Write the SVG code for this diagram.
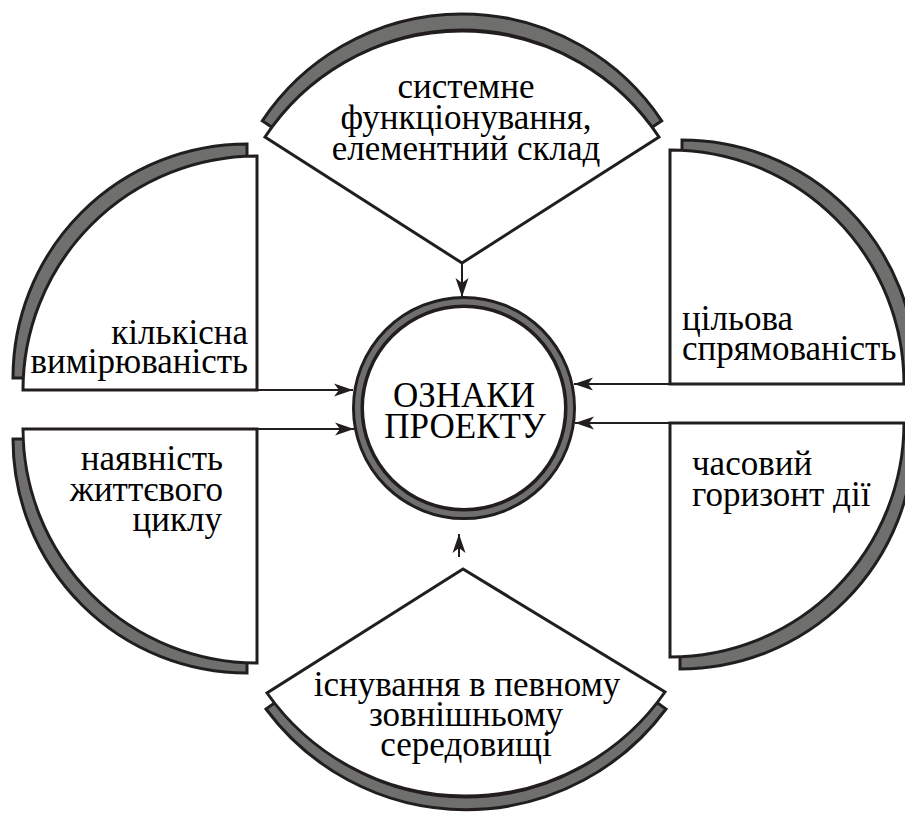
<svg xmlns="http://www.w3.org/2000/svg" width="905" height="814" viewBox="0 0 905 814">
<style>
.band{fill:#6f6f6d;stroke:#221e1f;stroke-width:3}
.sec{fill:#ffffff;stroke:#221e1f;stroke-width:3}
.con{stroke:#221e1f;stroke-width:2;fill:none}
</style>
<defs>
<marker id="ah" markerUnits="userSpaceOnUse" markerWidth="24" markerHeight="16" viewBox="-20 -8 22 16" refX="0" refY="0" orient="auto">
<path d="M0,0 L-19,-6.5 L-14,0 L-19,6.5 Z" fill="#221e1f"/>
</marker>
</defs>
<rect width="905" height="814" fill="#ffffff"/>

<g id="node-top">
<path class="band" d="M 262.3 120.8 A 240 240 0 0 1 661.7 120.8 L 648.4 129.7 A 224 224 0 0 0 275.6 129.7 Z"/>
<path class="sec" d="M 265 137 A 236 236 0 0 1 659 137 L 462 263 Z"/>
</g>
<g id="node-left-top">
<path class="band" d="M 13 378 A 234 234 0 0 1 247 144 L 247 162 A 216 216 0 0 0 31 378 Z"/>
<path class="sec" d="M 257 156 L 257 390 L 23 390 A 234 234 0 0 1 257 156 Z"/>
</g>
<g id="node-right-top">
<path class="band" d="M 682 140 A 234 234 0 0 1 916 374 L 898 374 A 216 216 0 0 0 682 158 Z"/>
<path class="sec" d="M 670 150 L 670 384 L 904 384 A 234 234 0 0 0 670 150 Z"/>
</g>
<g id="node-left-bottom">
<path class="band" d="M 13 439 A 234 234 0 0 0 247 673 L 247 655 A 216 216 0 0 1 31 439 Z"/>
<path class="sec" d="M 257 429 L 23 429 A 234 234 0 0 0 257 663 Z"/>
</g>
<g id="node-right-bottom">
<path class="band" d="M 680 669 A 234 234 0 0 0 914 435 L 896 435 A 216 216 0 0 1 680 651 Z"/>
<path class="sec" d="M 670 423 L 670 657 A 234 234 0 0 0 904 423 Z"/>
</g>
<g id="node-bottom">
<path class="band" d="M 266 709 A 249 249 0 0 0 666 709 L 655.6 701.6 A 236 236 0 0 1 276.4 701.6 Z"/>
<path class="sec" d="M 463 569 L 267 693 A 243 243 0 0 0 665 692 Z"/>
</g>

<g id="connectors">
<line class="con" x1="462" y1="263" x2="462" y2="297" marker-end="url(#ah)"/>
<line class="con" x1="257" y1="390" x2="353" y2="390" marker-end="url(#ah)"/>
<line class="con" x1="257" y1="429" x2="354" y2="429" marker-end="url(#ah)"/>
<line class="con" x1="670" y1="384" x2="574" y2="384" marker-end="url(#ah)"/>
<line class="con" x1="670" y1="423" x2="575" y2="423" marker-end="url(#ah)"/>
<line class="con" x1="459" y1="557" x2="459" y2="534" marker-end="url(#ah)"/>
</g>

<g id="node-center">
<circle cx="464" cy="408" r="106" fill="#ffffff" stroke="#221e1f" stroke-width="12"/>
<circle cx="464" cy="408" r="106.3" fill="none" stroke="#6f6f6d" stroke-width="5.5"/>
</g>

<g id="labels">
<text x="466" y="98" text-anchor="middle" font-family="Times New Roman" font-size="35">системне</text>
<text x="466" y="129" text-anchor="middle" font-family="Times New Roman" font-size="35">функціонування,</text>
<text x="466" y="160" text-anchor="middle" font-family="Times New Roman" font-size="35">елементний склад</text>
<text x="248" y="344" text-anchor="end" font-family="Times New Roman" font-size="35">кількісна</text>
<text x="248" y="373" text-anchor="end" font-family="Times New Roman" font-size="35">вимірюваність</text>
<text x="682" y="330" font-family="Times New Roman" font-size="35">цільова</text>
<text x="682" y="360" font-family="Times New Roman" font-size="35">спрямованість</text>
<text x="223" y="470" text-anchor="end" font-family="Times New Roman" font-size="35">наявність</text>
<text x="223" y="501" text-anchor="end" font-family="Times New Roman" font-size="35">життєвого</text>
<text x="222" y="531" text-anchor="end" font-family="Times New Roman" font-size="35">циклу</text>
<text x="692" y="475" font-family="Times New Roman" font-size="35">часовий</text>
<text x="692" y="506" font-family="Times New Roman" font-size="35">горизонт дії</text>
<text x="467" y="696" text-anchor="middle" font-family="Times New Roman" font-size="35">існування в певному</text>
<text x="466" y="726" text-anchor="middle" font-family="Times New Roman" font-size="35">зовнішньому</text>
<text x="466" y="756" text-anchor="middle" font-family="Times New Roman" font-size="35">середовищі</text>
<text x="464" y="407" text-anchor="middle" font-family="Times New Roman" font-size="35">ОЗНАКИ</text>
<text x="465" y="438" text-anchor="middle" font-family="Times New Roman" font-size="35">ПРОЕКТУ</text>
</g>
</svg>
